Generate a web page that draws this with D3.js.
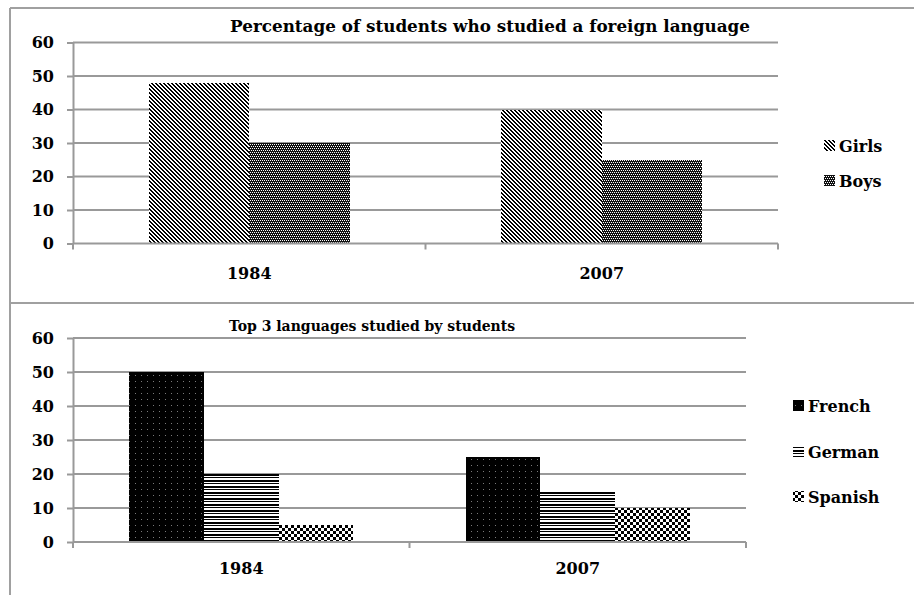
<!DOCTYPE html>
<html><head><meta charset="utf-8">
<script src="https://cdn.jsdelivr.net/npm/d3@7"></script>
<style>
body{margin:0;background:#fff;}
svg text{font-family:"DejaVu Serif",serif;font-weight:bold;fill:#000;}
</style></head><body>
<svg id="c" width="914" height="595"></svg>
<script>
const years = ["1984", "2007"];
const yTickValues = [0, 10, 20, 30, 40, 50, 60];
const topTitle = "Percentage of students who studied a foreign language";
const topSeriesNames = ["Girls", "Boys"];
const girlsValues = [48, 40];
const boysValues = [30, 25];
const bottomTitle = "Top 3 languages studied by students";
const bottomSeriesNames = ["French", "German", "Spanish"];
const frenchValues = [50, 25];
const germanValues = [20, 15];
const spanishValues = [5, 10];

const svg = d3.select("#c");
const defs = svg.append("defs");
function makePattern(id, w, h, bg, fg, cells) {
  const p = defs.append("pattern").attr("id", id).attr("width", w).attr("height", h)
    .attr("patternUnits", "userSpaceOnUse").attr("shape-rendering", "crispEdges");
  p.append("rect").attr("width", w).attr("height", h).attr("fill", bg);
  cells.forEach(c => p.append("rect").attr("x", c[0]).attr("y", c[1]).attr("width", c[2]).attr("height", c[3]).attr("fill", fg));
}
makePattern("pGirls", 4, 4, "#fff", "#000", [[0,0,2,1],[1,1,2,1],[2,2,2,1],[3,3,1,1],[0,3,1,1]]);
makePattern("pBoys", 4, 4, "#111", "#fff", [[0,0,1,1],[2,0,1,1],[1,2,1,1],[3,2,1,1]]);
makePattern("pFrench", 6, 6, "#000", "#7a7a7a", [[3,3,1,1]]);
makePattern("pGerman", 6, 6, "#fff", "#000", [[0,0,6,2],[0,3,6,1]]);
makePattern("pSpanish", 6, 6, "#fff", "#000", [[0,0,3,3],[3,3,3,3]]);

const GRID = "#999";
const FS = 16;

// frame lines
const frame = svg.append("g").attr("stroke", "#a0a0a0").attr("stroke-width", 2).attr("fill", "none");
frame.append("path").attr("d", "M10,8H914M10,8V595M10,303H914");

function drawChart(o) {
  const g = svg.append("g");
  const x = d3.scaleBand().domain(years).range([o.x0, o.x1]).padding(0);
  const y = d3.scaleLinear().domain([0, 60]).range([o.yBottom, o.yTop]);
  const n = o.names.length;
  const barW = x.bandwidth() / (n + 1.5);
  const inner = d3.scaleBand().domain(o.names).range([0.75 * barW, x.bandwidth() - 0.75 * barW]).padding(0);

  // gridlines
  g.append("g").selectAll("line").data(yTickValues.filter(v => v > 0)).join("line")
    .attr("x1", o.x0).attr("x2", o.x1).attr("y1", d => y(d)).attr("y2", d => y(d))
    .attr("stroke", GRID).attr("stroke-width", 2);

  // bars
  o.names.forEach((name, si) => {
    g.append("g").selectAll("rect").data(o.values[si]).join("rect")
      .attr("x", (d, i) => x(years[i]) + inner(name))
      .attr("width", inner.bandwidth())
      .attr("y", d => y(d))
      .attr("height", d => y(0) - y(d))
      .attr("fill", `url(#${o.patterns[si]})`)
      .attr("shape-rendering", "crispEdges");
  });

  // y axis
  const ya = g.append("g").attr("transform", `translate(${o.x0},0)`)
    .call(d3.axisLeft(y).tickValues(yTickValues).tickSize(6).tickSizeOuter(0).tickPadding(13));
  ya.select(".domain").attr("stroke", GRID).attr("stroke-width", 2);
  ya.selectAll(".tick line").attr("stroke", GRID).attr("stroke-width", 2);
  ya.selectAll(".tick text").attr("font-size", FS).attr("font-family", "DejaVu Serif").attr("font-weight", "bold").attr("fill", "#000");

  // x axis line and ticks
  g.append("line").attr("x1", o.x0).attr("x2", o.x1).attr("y1", y(0)).attr("y2", y(0))
    .attr("stroke", GRID).attr("stroke-width", 2);
  const bounds = years.map(yr => x(yr)).concat([x.range()[1]]);
  g.append("g").selectAll("line").data(bounds).join("line")
    .attr("x1", d => d).attr("x2", d => d).attr("y1", y(0)).attr("y2", y(0) + 6)
    .attr("stroke", GRID).attr("stroke-width", 2);
  g.append("g").selectAll("text").data(years).join("text")
    .attr("x", d => x(d) + x.bandwidth() / 2).attr("y", o.catY)
    .attr("text-anchor", "middle").attr("dominant-baseline", "central")
    .attr("font-size", FS).text(d => d);

  // title
  g.append("text").attr("x", o.titleX).attr("y", o.titleY).attr("text-anchor", "middle")
    .attr("dominant-baseline", "central").attr("font-size", o.titleSize).text(o.title);

  // legend
  o.names.forEach((name, si) => {
    const ly = o.legendYs[si];
    g.append("rect").attr("x", o.legendX).attr("y", ly - 6).attr("width", 11).attr("height", 11)
      .attr("fill", `url(#${o.patterns[si]})`).attr("shape-rendering", "crispEdges");
    g.append("text").attr("x", o.legendX + 15).attr("y", ly).attr("dominant-baseline", "central")
      .attr("font-size", FS).text(name);
  });
}

drawChart({
  title: topTitle, titleX: 490, titleY: 26, titleSize: 16.8,
  names: topSeriesNames, values: [girlsValues, boysValues], patterns: ["pGirls", "pBoys"],
  x0: 73, x1: 778, yTop: 42.5, yBottom: 243.5, catY: 273,
  legendX: 824, legendYs: [146, 181]
});
drawChart({
  title: bottomTitle, titleX: 372, titleY: 326, titleSize: 14,
  names: bottomSeriesNames, values: [frenchValues, germanValues, spanishValues],
  patterns: ["pFrench", "pGerman", "pSpanish"],
  x0: 73, x1: 746, yTop: 338, yBottom: 542, catY: 568,
  legendX: 793, legendYs: [406, 452, 497]
});
</script>
</body></html>
